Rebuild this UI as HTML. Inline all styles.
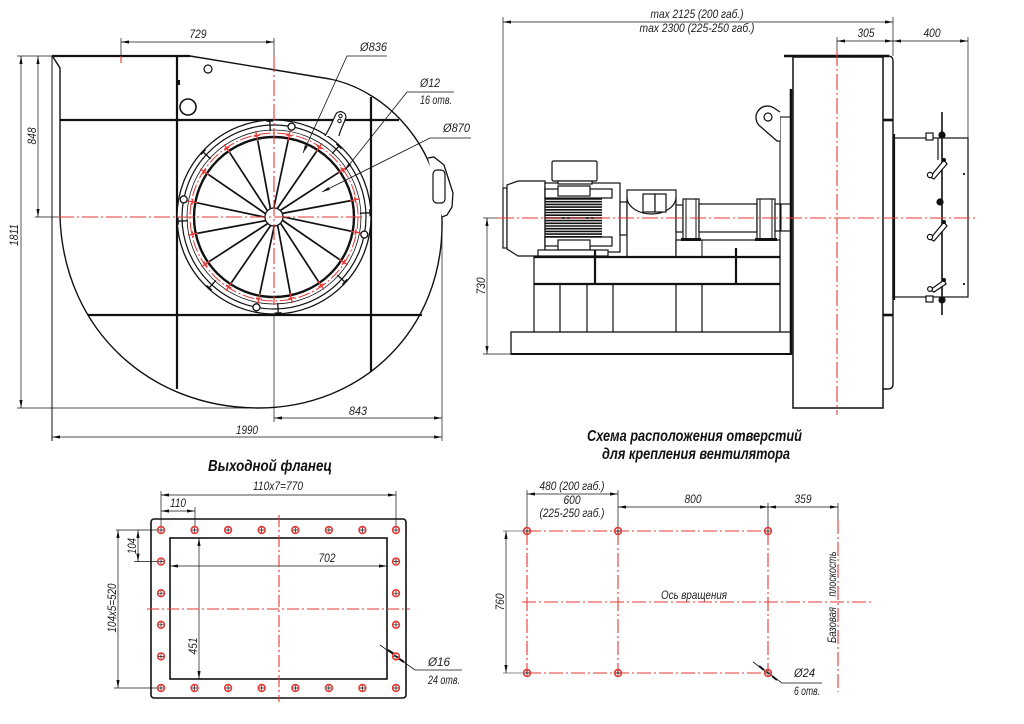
<!DOCTYPE html>
<html><head><meta charset="utf-8"><style>
html,body{margin:0;padding:0;background:#fff}
svg{display:block}
text{font-family:"Liberation Sans",sans-serif;font-style:italic;font-size:12px;fill:#222;stroke:none}
.b{font-weight:bold;font-size:15.5px;fill:#111}
</style></head><body>
<svg width="1024" height="724" viewBox="0 0 1024 724" xmlns="http://www.w3.org/2000/svg" xmlns:xlink="http://www.w3.org/1999/xlink">
<defs>
<marker id="ar" viewBox="0 0 10 4" refX="10" refY="2" markerWidth="8" markerHeight="3.2" orient="auto-start-reverse" markerUnits="userSpaceOnUse"><path d="M0,0L10,2L0,4z" fill="#111"/></marker>
<g id="sp"><line x1="283" y1="216.8" x2="352.7" y2="231.6" stroke="#111" stroke-width="1.7"/></g>
<g id="rt"><path d="M352,217H362M357,214V220" stroke="#e53935" stroke-width="1.3" fill="none"/></g>
<g id="tb"><path d="M360,217H370M370,213.5V220.5" stroke="#111" stroke-width="1.3" fill="none"/></g>
<g id="lg"><circle cx="366" cy="217" r="3.5" fill="#fff" stroke="#111" stroke-width="1.3"/></g>
<g id="h"><circle r="3.4" fill="none" stroke="#e53935" stroke-width="1.6"/><path d="M-2.5,0H2.5M0,-2.5V2.5" stroke="#111" stroke-width=".7"/></g>
</defs>
<rect width="1024" height="724" fill="#fff"/>

<!-- ================= FRONT VIEW ================= -->
<g fill="none" stroke="#111">
  <g stroke-width=".7">
    <line x1="121" y1="42" x2="274" y2="42" marker-start="url(#ar)" marker-end="url(#ar)"/>
    <line x1="121" y1="38" x2="121" y2="56"/>
    <line x1="274" y1="38" x2="274" y2="56"/>
    <line x1="21" y1="56" x2="21" y2="408" marker-start="url(#ar)" marker-end="url(#ar)"/>
    <line x1="38" y1="56" x2="38" y2="217" marker-start="url(#ar)" marker-end="url(#ar)"/>
    <line x1="17" y1="56" x2="52" y2="56"/>
    <line x1="17" y1="408" x2="255" y2="408"/>
    <line x1="35" y1="217" x2="58" y2="217"/>
    <line x1="274" y1="418" x2="442" y2="418" marker-start="url(#ar)" marker-end="url(#ar)"/>
    <line x1="52" y1="437" x2="442" y2="437" marker-start="url(#ar)" marker-end="url(#ar)"/>
    <line x1="442" y1="222" x2="442" y2="441"/>
    <line x1="274" y1="305" x2="274" y2="422"/>
  </g>
  <path d="M52,56 L190,56" stroke-width="2.2"/>
  <path d="M190,56 L330,79 C388,91 440,148 442,220 C444,330 362,408 258,408 C152,408 64,332 60,217 L60,68 L53,57" stroke-width="1.4"/>
  <line x1="52" y1="56" x2="52" y2="441" stroke-width="1"/>
  <g stroke-width="2.2">
    <line x1="60" y1="120" x2="399" y2="120"/>
    <line x1="88" y1="315" x2="422" y2="315"/>
    <line x1="177" y1="56" x2="177" y2="389"/>
    <line x1="371" y1="97" x2="371" y2="372"/>
  </g>
  <circle cx="208" cy="69" r="4" stroke-width="1.2"/>
  <circle cx="188" cy="107" r="8" stroke-width="1.6"/>
  <rect x="178" y="80" width="2" height="5" fill="#111" stroke="none"/>
  <path d="M428,158 L434,157 L444,165 L453,193 L452,207 L447,215 L442,217" stroke-width="1.3" fill="#fff"/>
  <rect x="433" y="170" width="12" height="33" rx="4" stroke-width="1.2"/>
  <circle cx="274" cy="217" r="97" stroke-width="1.3" fill="#fff"/>
  <circle cx="274" cy="217" r="92" stroke-width="1.2"/>
  <circle cx="274" cy="217" r="87" stroke-width=".8"/>
  <circle cx="274" cy="217" r="84" stroke="#e53935" stroke-width="1" stroke-dasharray="12,2.5,2,2.5"/>
  <circle cx="274" cy="217" r="80" stroke-width="2.4"/>
  <path d="M325,136 C330,128 333,120 336,114 A5.5,5.5 0 0 1 346,117 C344,124 340,130 339,136" stroke-width="1.2" fill="#fff"/>
  <circle cx="340.5" cy="116" r="1.7" stroke-width="1"/>
  <circle cx="339.5" cy="121" r="1.7" stroke-width="1"/>
</g>
<use href="#sp"/>
<use href="#sp" transform="rotate(22.5 274 217)"/>
<use href="#sp" transform="rotate(45 274 217)"/>
<use href="#sp" transform="rotate(67.5 274 217)"/>
<use href="#sp" transform="rotate(90 274 217)"/>
<use href="#sp" transform="rotate(112.5 274 217)"/>
<use href="#sp" transform="rotate(135 274 217)"/>
<use href="#sp" transform="rotate(157.5 274 217)"/>
<use href="#sp" transform="rotate(180 274 217)"/>
<use href="#sp" transform="rotate(202.5 274 217)"/>
<use href="#sp" transform="rotate(225 274 217)"/>
<use href="#sp" transform="rotate(247.5 274 217)"/>
<use href="#sp" transform="rotate(270 274 217)"/>
<use href="#sp" transform="rotate(292.5 274 217)"/>
<use href="#sp" transform="rotate(315 274 217)"/>
<use href="#sp" transform="rotate(337.5 274 217)"/>
<use href="#rt" transform="rotate(10.5 274 217)"/>
<use href="#rt" transform="rotate(33 274 217)"/>
<use href="#rt" transform="rotate(55.5 274 217)"/>
<use href="#rt" transform="rotate(78 274 217)"/>
<use href="#rt" transform="rotate(100.5 274 217)"/>
<use href="#rt" transform="rotate(123 274 217)"/>
<use href="#rt" transform="rotate(145.5 274 217)"/>
<use href="#rt" transform="rotate(168 274 217)"/>
<use href="#rt" transform="rotate(190.5 274 217)"/>
<use href="#rt" transform="rotate(213 274 217)"/>
<use href="#rt" transform="rotate(235.5 274 217)"/>
<use href="#rt" transform="rotate(258 274 217)"/>
<use href="#rt" transform="rotate(280.5 274 217)"/>
<use href="#rt" transform="rotate(303 274 217)"/>
<use href="#rt" transform="rotate(325.5 274 217)"/>
<use href="#rt" transform="rotate(348 274 217)"/>
<use href="#tb" transform="rotate(-2.5 274 217)"/>
<use href="#tb" transform="rotate(42.5 274 217)"/>
<use href="#tb" transform="rotate(87.5 274 217)"/>
<use href="#tb" transform="rotate(132.5 274 217)"/>
<use href="#tb" transform="rotate(177.5 274 217)"/>
<use href="#tb" transform="rotate(222.5 274 217)"/>
<use href="#tb" transform="rotate(267.5 274 217)"/>
<use href="#tb" transform="rotate(312.5 274 217)"/>
<use href="#lg" transform="rotate(11 274 217)"/>
<use href="#lg" transform="rotate(101 274 217)"/>
<use href="#lg" transform="rotate(191 274 217)"/>
<use href="#lg" transform="rotate(281 274 217)"/>
<circle cx="274" cy="217" r="9" fill="#fff" stroke="#111" stroke-width="1.3"/>
<g stroke="#e53935" stroke-width="1.1" stroke-dasharray="16,3,2,3" fill="none">
  <line x1="274" y1="56" x2="274" y2="305"/>
  <line x1="58" y1="217" x2="362" y2="217"/>
</g>
<line x1="121" y1="56" x2="121" y2="63" stroke="#e53935" stroke-width="1.1"/>
<g fill="none" stroke="#111" stroke-width=".8">
  <polyline points="387,56 347,56 303,153" marker-end="url(#ar)"/>
  <polyline points="454,92 407,92 345,170" marker-end="url(#ar)"/>
  <polyline points="471,138 430,138 322,192" marker-end="url(#ar)"/>
</g>
<text x="198" y="38" text-anchor="middle" textLength="17" lengthAdjust="spacingAndGlyphs">729</text>
<text x="360" y="51" textLength="27" lengthAdjust="spacingAndGlyphs">Ø836</text>
<text x="420" y="87" textLength="20" lengthAdjust="spacingAndGlyphs">Ø12</text>
<text x="420" y="104" textLength="32" lengthAdjust="spacingAndGlyphs">16 отв.</text>
<text x="443" y="132" textLength="27" lengthAdjust="spacingAndGlyphs">Ø870</text>
<text transform="translate(18,235) rotate(-90)" text-anchor="middle" textLength="22" lengthAdjust="spacingAndGlyphs">1811</text>
<text transform="translate(36,136) rotate(-90)" text-anchor="middle" textLength="17" lengthAdjust="spacingAndGlyphs">848</text>
<text x="358" y="415" text-anchor="middle" textLength="18" lengthAdjust="spacingAndGlyphs">843</text>
<text x="247" y="434" text-anchor="middle" textLength="22" lengthAdjust="spacingAndGlyphs">1990</text>

<!-- ================= SIDE VIEW ================= -->
<g fill="none" stroke="#111">
  <g stroke-width=".7">
    <line x1="503" y1="22" x2="893" y2="22" marker-start="url(#ar)" marker-end="url(#ar)"/>
    <line x1="503" y1="17" x2="503" y2="188"/>
    <line x1="893" y1="17" x2="893" y2="56"/>
    <line x1="837" y1="41" x2="893" y2="41" marker-start="url(#ar)" marker-end="url(#ar)"/>
    <line x1="893" y1="41" x2="968" y2="41" marker-start="url(#ar)" marker-end="url(#ar)"/>
    <line x1="837" y1="37" x2="837" y2="50"/>
    <line x1="968" y1="37" x2="968" y2="138"/>
    <line x1="487" y1="218" x2="487" y2="354" marker-start="url(#ar)" marker-end="url(#ar)"/>
    <line x1="483" y1="218" x2="498" y2="218"/>
    <line x1="483" y1="354" x2="511" y2="354"/>
  </g>
  <g stroke-width="1.2" fill="#fff">
    <rect x="503" y="188" width="4" height="60"/>
    <polygon points="507,185 518,181 545,181 545,256 518,256 507,249"/>
    <rect x="545" y="183" width="75" height="69"/>
    <rect x="552" y="161" width="45" height="20" rx="1.5"/>
    <rect x="558" y="181" width="34" height="3"/>
    <rect x="545" y="189" width="67" height="9"/>
    <rect x="558" y="186" width="32" height="10"/>
    <rect x="545" y="237" width="67" height="9"/>
    <rect x="558" y="240" width="32" height="10"/>
    <rect x="620" y="202" width="7" height="33"/>
    <rect x="538" y="250" width="70" height="6"/>
  </g>
  <g stroke-width="1.6">
    <line x1="545" y1="199" x2="602" y2="199"/><line x1="545" y1="201.7" x2="602" y2="201.7"/>
    <line x1="545" y1="204.4" x2="602" y2="204.4"/><line x1="545" y1="207.1" x2="602" y2="207.1"/>
    <line x1="545" y1="209.8" x2="602" y2="209.8"/><line x1="545" y1="212.5" x2="602" y2="212.5"/>
    <line x1="545" y1="215.2" x2="602" y2="215.2"/><line x1="545" y1="217.9" x2="602" y2="217.9"/>
    <line x1="545" y1="220.6" x2="602" y2="220.6"/><line x1="545" y1="223.3" x2="602" y2="223.3"/>
    <line x1="545" y1="226" x2="602" y2="226"/><line x1="545" y1="228.7" x2="602" y2="228.7"/>
    <line x1="545" y1="231.4" x2="602" y2="231.4"/><line x1="545" y1="234.1" x2="602" y2="234.1"/>
    <line x1="545" y1="236.8" x2="602" y2="236.8"/>
  </g>
  <g stroke-width="1.2" fill="#fff">
    <rect x="627" y="190" width="49" height="67"/>
    <path d="M627,197 A24.5,17 0 0 0 676,197"/>
    <rect x="643" y="194" width="12" height="18"/>
    <rect x="655" y="194" width="11" height="18"/>
    <rect x="676" y="205" width="7" height="27"/>
    <rect x="676" y="240" width="104" height="17"/>
    <rect x="683" y="199" width="16" height="40"/>
    <rect x="699" y="204" width="58" height="28"/>
    <rect x="757" y="199" width="18" height="40"/>
    <rect x="775" y="204" width="16" height="27"/>
  </g>
  <g stroke-width="1">
    <line x1="686" y1="199" x2="686" y2="239"/><line x1="696" y1="199" x2="696" y2="239"/>
    <line x1="760" y1="199" x2="760" y2="239"/><line x1="772" y1="199" x2="772" y2="239"/>
    <line x1="702" y1="240" x2="702" y2="257"/>
    <line x1="781" y1="204" x2="781" y2="231"/>
  </g>
  <rect x="681" y="238" width="20" height="3" fill="#111" stroke="none"/>
  <rect x="755" y="238" width="22" height="3" fill="#111" stroke="none"/>
  <rect x="534" y="257" width="246" height="27" stroke-width="1.2"/>
  <line x1="534" y1="257" x2="780" y2="257" stroke-width="2.2"/>
  <line x1="534" y1="284" x2="780" y2="284" stroke-width="2.2"/>
  <line x1="595" y1="250" x2="595" y2="284" stroke-width="2.2"/>
  <line x1="736" y1="248" x2="736" y2="284" stroke-width="2.2"/>
  <g stroke-width="1.2">
    <line x1="534" y1="284" x2="534" y2="332"/><line x1="560" y1="284" x2="560" y2="332"/>
    <line x1="587" y1="284" x2="587" y2="332"/><line x1="613" y1="284" x2="613" y2="332"/>
    <line x1="676" y1="284" x2="676" y2="332"/><line x1="702" y1="284" x2="702" y2="332"/>
    <line x1="780" y1="284" x2="780" y2="332"/>
  </g>
  <rect x="511" y="332" width="280" height="22" stroke-width="1.3"/>
  <line x1="511" y1="354" x2="791" y2="354" stroke-width="2"/>
  <line x1="780" y1="117" x2="780" y2="332" stroke-width="1.1"/>
  <line x1="780" y1="117" x2="791" y2="117" stroke-width="1.1"/>
  <path d="M780,112 L774,108 A11,11 0 1 0 761,127 L777,141 L780,141" stroke-width="1.3" fill="#fff"/>
  <circle cx="768" cy="117" r="4" stroke-width="1.2"/>
  <line x1="791" y1="89" x2="791" y2="355" stroke-width="2.6"/>
  <rect x="793" y="57" width="90" height="351" stroke-width="1.5"/>
  <path d="M888,56 Q893,56 893,61 V384 Q893,389 888,389 H883" stroke-width="1.4"/>
  <line x1="784" y1="56" x2="889" y2="56" stroke-width="2.6"/>
  <line x1="883" y1="120" x2="893" y2="120" stroke-width="2.6"/>
  <line x1="883" y1="315" x2="893" y2="315" stroke-width="2.6"/>
  <rect x="893" y="138" width="75" height="159" stroke-width="1.2"/>
  <line x1="894" y1="134" x2="894" y2="300" stroke-width="2.2"/>
  <line x1="942" y1="112" x2="942" y2="315" stroke-width="1.6"/>
  <line x1="938" y1="138" x2="938" y2="160" stroke-width="1.2"/>
  <g stroke-width="1.2">
    <path d="M930,177 L944,160 L947,164 L934,179 Z" fill="#fff"/>
    <circle cx="930" cy="175" r="2.6" fill="#fff"/>
    <path d="M930,239 L944,222 L947,226 L934,241 Z" fill="#fff"/>
    <circle cx="930" cy="237" r="2.6" fill="#fff"/>
    <path d="M930,290 L944,280 L946,284 L934,292 Z" fill="#fff"/>
    <circle cx="930" cy="289" r="2.4" fill="#fff"/>
    <rect x="926" y="133" width="7" height="7" fill="#fff"/>
    <rect x="926" y="296" width="7" height="6" fill="#fff"/>
  </g>
  <g fill="#111" stroke="none">
    <circle cx="942" cy="135" r="3.6"/><circle cx="940" cy="202" r="3.6"/>
    <circle cx="942" cy="300" r="3.6"/><circle cx="944" cy="160" r="2"/><circle cx="944" cy="222" r="2"/>
    <circle cx="944" cy="280" r="2"/>
    <circle cx="964" cy="174" r="1.1"/><circle cx="964" cy="284" r="1.1"/>
  </g>
</g>
<g stroke="#e53935" stroke-width="1.1" stroke-dasharray="16,3,2,3" fill="none">
  <line x1="498" y1="218" x2="975" y2="218"/>
  <line x1="837" y1="50" x2="837" y2="415"/>
</g>
<text x="697" y="18" text-anchor="middle" textLength="93" lengthAdjust="spacingAndGlyphs">max 2125 (200 габ.)</text>
<text x="697" y="32" text-anchor="middle" textLength="115" lengthAdjust="spacingAndGlyphs">max 2300 (225-250 габ.)</text>
<text x="866" y="37" text-anchor="middle" textLength="17" lengthAdjust="spacingAndGlyphs">305</text>
<text x="932" y="37" text-anchor="middle" textLength="17" lengthAdjust="spacingAndGlyphs">400</text>
<text transform="translate(485,286) rotate(-90)" text-anchor="middle" textLength="17" lengthAdjust="spacingAndGlyphs">730</text>

<!-- ================= FLANGE ================= -->
<text class="b" x="208" y="471" textLength="124" lengthAdjust="spacingAndGlyphs">Выходной фланец</text>
<g fill="none" stroke="#111">
  <rect x="151" y="519" width="255" height="179" rx="3" stroke-width="1.6"/>
  <rect x="170" y="538" width="217" height="141" stroke-width="1.6"/>
  <g stroke-width=".7">
    <line x1="161" y1="495" x2="396" y2="495" marker-start="url(#ar)" marker-end="url(#ar)"/>
    <line x1="161" y1="491" x2="161" y2="526"/><line x1="396" y1="491" x2="396" y2="526"/>
    <line x1="161" y1="511" x2="195" y2="511" marker-start="url(#ar)" marker-end="url(#ar)"/>
    <line x1="195" y1="507" x2="195" y2="526"/>
    <line x1="138" y1="530" x2="138" y2="561.6" marker-start="url(#ar)" marker-end="url(#ar)"/>
    <line x1="116" y1="530" x2="157" y2="530"/><line x1="134" y1="561.6" x2="157" y2="561.6"/>
    <line x1="118" y1="530" x2="118" y2="688" marker-start="url(#ar)" marker-end="url(#ar)"/>
    <line x1="114" y1="688" x2="157" y2="688"/>
    <line x1="170" y1="566" x2="387" y2="566" marker-start="url(#ar)" marker-end="url(#ar)"/>
    <line x1="199" y1="538" x2="199" y2="679" marker-start="url(#ar)" marker-end="url(#ar)"/>
    <polyline points="380,645 415,670 462,670" stroke-width=".8"/>
  </g>
  <path d="M388,650 L394,654 M398,658 L404,662" stroke-width="2"/>
</g>
<g stroke="#e53935" stroke-width="1.1" stroke-dasharray="12,3,2,3" fill="none">
  <line x1="279" y1="515" x2="279" y2="702"/>
  <line x1="147" y1="609" x2="410" y2="609"/>
</g>
<use href="#h" x="161" y="530"/><use href="#h" x="194.6" y="530"/><use href="#h" x="228.1" y="530"/><use href="#h" x="261.7" y="530"/>
<use href="#h" x="295.3" y="530"/><use href="#h" x="328.9" y="530"/><use href="#h" x="362.4" y="530"/><use href="#h" x="396" y="530"/>
<use href="#h" x="161" y="688"/><use href="#h" x="194.6" y="688"/><use href="#h" x="228.1" y="688"/><use href="#h" x="261.7" y="688"/>
<use href="#h" x="295.3" y="688"/><use href="#h" x="328.9" y="688"/><use href="#h" x="362.4" y="688"/><use href="#h" x="396" y="688"/>
<use href="#h" x="161" y="561.6"/><use href="#h" x="161" y="593.2"/><use href="#h" x="161" y="624.8"/><use href="#h" x="161" y="656.4"/>
<use href="#h" x="396" y="561.6"/><use href="#h" x="396" y="593.2"/><use href="#h" x="396" y="624.8"/><use href="#h" x="396" y="656.4"/>
<text x="278" y="490" text-anchor="middle" textLength="50" lengthAdjust="spacingAndGlyphs">110x7=770</text>
<text x="178" y="507" text-anchor="middle" textLength="16" lengthAdjust="spacingAndGlyphs">110</text>
<text transform="translate(136,546) rotate(-90)" text-anchor="middle" textLength="16" lengthAdjust="spacingAndGlyphs">104</text>
<text transform="translate(116,608) rotate(-90)" text-anchor="middle" textLength="49" lengthAdjust="spacingAndGlyphs">104x5=520</text>
<text x="327" y="562" text-anchor="middle" textLength="17" lengthAdjust="spacingAndGlyphs">702</text>
<text transform="translate(197,646) rotate(-90)" text-anchor="middle" textLength="17" lengthAdjust="spacingAndGlyphs">451</text>
<text x="428" y="666" textLength="22" lengthAdjust="spacingAndGlyphs">Ø16</text>
<text x="428" y="684" textLength="32" lengthAdjust="spacingAndGlyphs">24 отв.</text>

<!-- ================= HOLE SCHEME ================= -->
<text class="b" x="587" y="441" textLength="215" lengthAdjust="spacingAndGlyphs">Схема расположения отверстий</text>
<text class="b" x="602" y="459" textLength="188" lengthAdjust="spacingAndGlyphs">для крепления вентилятора</text>
<g fill="none" stroke="#111" stroke-width=".7">
  <line x1="527" y1="494" x2="618" y2="494" marker-start="url(#ar)" marker-end="url(#ar)"/>
  <line x1="618" y1="507" x2="768" y2="507" marker-start="url(#ar)" marker-end="url(#ar)"/>
  <line x1="768" y1="507" x2="838" y2="507" marker-start="url(#ar)" marker-end="url(#ar)"/>
  <line x1="527" y1="490" x2="527" y2="527"/><line x1="618" y1="490" x2="618" y2="527"/>
  <line x1="768" y1="503" x2="768" y2="527"/><line x1="838" y1="503" x2="838" y2="520"/>
  <line x1="506" y1="531" x2="506" y2="673" marker-start="url(#ar)" marker-end="url(#ar)"/>
  <line x1="503" y1="531" x2="523" y2="531" stroke="#666"/><line x1="503" y1="673" x2="523" y2="673" stroke="#666"/>
  <polyline points="753,662 782,683 822,683" stroke-width=".8"/>
  <path d="M759,666 L764,670 M772,676 L777,680" stroke-width="2"/>
</g>
<g stroke="#e53935" stroke-width="1.1" stroke-dasharray="14,3,2,3" fill="none">
  <line x1="527" y1="531" x2="768" y2="531"/>
  <line x1="527" y1="673" x2="768" y2="673"/>
  <line x1="527" y1="531" x2="527" y2="673"/>
  <line x1="618" y1="531" x2="618" y2="673"/>
  <line x1="768" y1="531" x2="768" y2="673"/>
  <line x1="522" y1="602" x2="873" y2="602"/>
  <line x1="838" y1="520" x2="838" y2="692"/>
</g>
<use href="#h" x="527" y="531"/><use href="#h" x="618" y="531"/><use href="#h" x="768" y="531"/>
<use href="#h" x="527" y="673"/><use href="#h" x="618" y="673"/><use href="#h" x="768" y="673"/>
<text x="572" y="490" text-anchor="middle" textLength="65" lengthAdjust="spacingAndGlyphs">480 (200 габ.)</text>
<text x="572" y="504" text-anchor="middle" textLength="17" lengthAdjust="spacingAndGlyphs">600</text>
<text x="572" y="517" text-anchor="middle" textLength="65" lengthAdjust="spacingAndGlyphs">(225-250 габ.)</text>
<text x="693" y="503" text-anchor="middle" textLength="17" lengthAdjust="spacingAndGlyphs">800</text>
<text x="803" y="503" text-anchor="middle" textLength="17" lengthAdjust="spacingAndGlyphs">359</text>
<text x="694" y="599" text-anchor="middle" textLength="66" lengthAdjust="spacingAndGlyphs">Ось вращения</text>
<text transform="translate(504,602) rotate(-90)" text-anchor="middle" textLength="17" lengthAdjust="spacingAndGlyphs">760</text>
<text transform="translate(836,625) rotate(-90)" text-anchor="middle" textLength="36" lengthAdjust="spacingAndGlyphs">Базовая</text>
<text transform="translate(836,574) rotate(-90)" text-anchor="middle" textLength="45" lengthAdjust="spacingAndGlyphs">плоскость</text>
<text x="794" y="677" textLength="21" lengthAdjust="spacingAndGlyphs">Ø24</text>
<text x="794" y="695" textLength="26" lengthAdjust="spacingAndGlyphs">6 отв.</text>
</svg>
</body></html>
